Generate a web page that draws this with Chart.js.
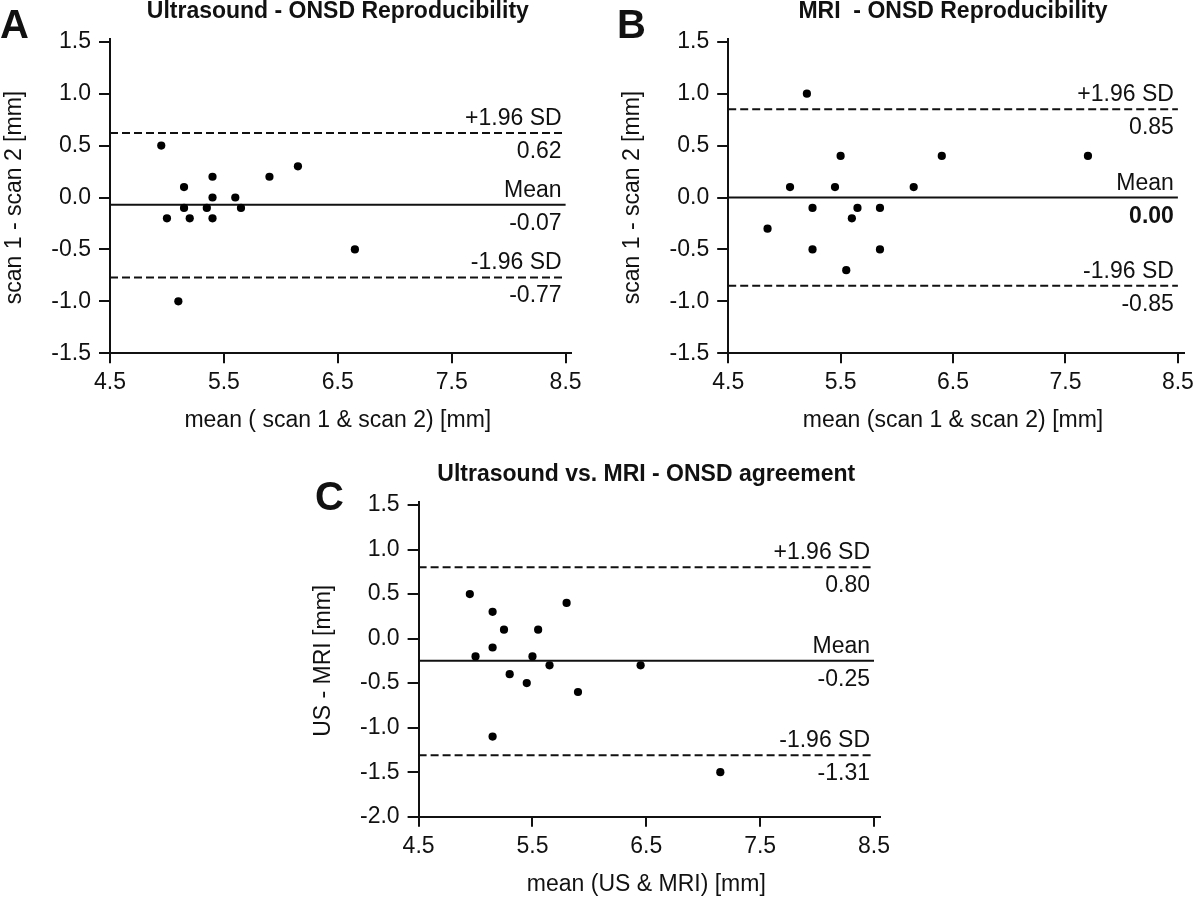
<!DOCTYPE html>
<html>
<head>
<meta charset="utf-8">
<script src="https://cdn.jsdelivr.net/npm/chart.js@4.4.1/dist/chart.umd.min.js"></script>
<style>
  html, body { margin: 0; padding: 0; background: #fff; }
  body { width: 1200px; height: 897px; position: relative; overflow: hidden; }
  canvas { position: absolute; }
</style>
</head>
<body>
<canvas id="chartA" width="600" height="445" style="left:0;top:0"></canvas>
<canvas id="chartB" width="600" height="445" style="left:600px;top:0"></canvas>
<canvas id="chartC" width="600" height="452" style="left:300px;top:445px"></canvas>

<script>
// --- tick labels ---
const xTicks = [4.5, 5.5, 6.5, 7.5, 8.5];
const yTicksAB = [-1.5, -1.0, -0.5, 0.0, 0.5, 1.0, 1.5];
const yTicksC = [-2.0, -1.5, -1.0, -0.5, 0.0, 0.5, 1.0, 1.5];

// --- A: ultrasound scan 1 vs scan 2 ---
const meanA = [4.95, 5.0, 5.15, 5.15, 5.2, 5.1, 5.35, 5.4, 5.4, 5.4, 5.6, 5.65, 5.9, 6.15, 6.65];
const diffA = [0.5, -0.2, 0.1, -0.1, -0.2, -1.0, -0.1, 0.2, 0.0, -0.2, 0.0, -0.1, 0.2, 0.3, -0.5];
const limitsA = [0.62, -0.07, -0.77];   // +1.96 SD, mean, -1.96 SD

// --- B: MRI scan 1 vs scan 2 ---
const meanB = [5.2, 5.05, 4.85, 5.25, 5.25, 5.45, 5.5, 5.55, 5.6, 5.65, 5.85, 5.85, 6.15, 6.4, 7.7];
const diffB = [1.0, 0.1, -0.3, -0.1, -0.5, 0.1, 0.4, -0.7, -0.2, -0.1, -0.1, -0.5, 0.1, 0.4, 0.4];
const limitsB = [0.85, 0.00, -0.85];

// --- C: ultrasound vs MRI ---
const meanC = [4.95, 5.0, 5.15, 5.15, 5.15, 5.25, 5.3, 5.45, 5.5, 5.55, 5.65, 5.8, 5.9, 6.45, 7.15];
const diffC = [0.5, -0.2, 0.3, -0.1, -1.1, 0.1, -0.4, -0.5, -0.2, 0.1, -0.3, 0.4, -0.6, -0.3, -1.5];
const limitsC = [0.80, -0.25, -1.31];

const limitNames = ['+1.96 SD', 'Mean', '-1.96 SD'];

const FONT = '"Liberation Sans", Arial, Helvetica, sans-serif';
Chart.defaults.font.family = FONT;
Chart.defaults.font.size = 23;
Chart.defaults.color = '#111';

// text that Chart.js has no slot for: panel letter, title, axis titles, limit labels
const bandLabels = {
    id: 'bandLabels',
    afterDraw(chart, args, opts) {
        const { ctx, chartArea, scales: { x, y } } = chart;
        const x0 = x.getPixelForValue(4.5);
        const x1 = x.getPixelForValue(8.5);
        const xc = (x0 + x1) / 2;
        ctx.save();
        ctx.fillStyle = '#111';

        // limit lines labels
        ctx.textAlign = 'right';
        ctx.textBaseline = 'alphabetic';
        opts.limits.forEach((v, i) => {
            const py = y.getPixelForValue(v);
            ctx.font = '23px ' + FONT;
            ctx.fillText(limitNames[i], x1 - 4, py - 8);
            ctx.font = (opts.boldMean && i === 1 ? 'bold ' : '') + '23px ' + FONT;
            ctx.fillText(v.toFixed(2), x1 - 4, py + 25);
        });

        // title
        ctx.textAlign = 'center';
        ctx.font = 'bold 23px ' + FONT;
        ctx.fillText(opts.title, xc, chartArea.top - 21);

        // panel letter
        ctx.textAlign = 'left';
        ctx.font = 'bold 40px ' + FONT;
        ctx.fillText(opts.letter, opts.letterX, opts.letterY);

        // x axis title
        ctx.textAlign = 'center';
        ctx.font = '23px ' + FONT;
        ctx.fillText(opts.xTitle, xc, chartArea.bottom + 74);

        // y axis title
        const yTop = y.getPixelForValue(opts.yTicks[opts.yTicks.length - 1]);
        const yc = (yTop + chartArea.bottom) / 2;
        ctx.translate(chartArea.left - 89, yc);
        ctx.rotate(-Math.PI / 2);
        ctx.fillText(opts.yTitle, 0, 0);
        ctx.restore();
    }
};

function makePanel(id, xs, ys, limits, yTicks, yMin, cfg) {
    const points = xs.map((v, i) => ({ x: v, y: ys[i] }));
    const lineSets = limits.map((v, i) => ({
        data: [{ x: 4.5, y: v }, { x: 8.5, y: v }],
        showLine: true,
        borderColor: '#111',
        borderWidth: 2,
        borderDash: i === 1 ? [] : [8, 4],
        pointRadius: 0,
        order: 1
    }));

    return new Chart(document.getElementById(id).getContext('2d'), {
        type: 'scatter',
        data: {
            datasets: [
                {
                    data: points,
                    backgroundColor: '#000',
                    borderWidth: 0,
                    pointRadius: 4.1,
                    order: 0
                },
                ...lineSets
            ]
        },
        options: {
            responsive: false,
            animation: false,
            events: [],
            layout: { padding: cfg.padding },
            plugins: {
                legend: { display: false },
                tooltip: { enabled: false },
                bandLabels: {
                    limits: limits,
                    yTicks: yTicks,
                    title: cfg.title,
                    letter: cfg.letter,
                    letterX: cfg.letterX,
                    letterY: cfg.letterY,
                    xTitle: cfg.xTitle,
                    yTitle: cfg.yTitle,
                    boldMean: cfg.boldMean
                }
            },
            scales: {
                x: {
                    type: 'linear',
                    min: 4.5,
                    max: 8.55,
                    afterBuildTicks: (s) => { s.ticks = xTicks.map(v => ({ value: v })); },
                    afterFit: (s) => { s.height = cfg.xHeight; },
                    grid: { drawOnChartArea: false, drawTicks: true, tickLength: 10, color: '#111', lineWidth: 2 },
                    border: { display: true, color: '#111', width: 2 },
                    ticks: { padding: 6, maxRotation: 0, callback: v => v.toFixed(1) }
                },
                y: {
                    type: 'linear',
                    min: yMin,
                    max: 1.53,
                    afterBuildTicks: (s) => { s.ticks = yTicks.map(v => ({ value: v })); },
                    afterFit: (s) => { s.width = cfg.yWidth; },
                    grid: { drawOnChartArea: false, drawTicks: true, tickLength: 11, color: '#111', lineWidth: 2 },
                    border: { display: true, color: '#111', width: 2 },
                    ticks: { padding: 8, callback: v => v.toFixed(1) }
                }
            }
        },
        plugins: [bandLabels]
    });
}

makePanel('chartA', meanA, diffA, limitsA, yTicksAB, -1.5, {
    title: 'Ultrasound - ONSD Reproducibility',
    letter: 'A', letterX: 0, letterY: 38,
    xTitle: 'mean ( scan 1 & scan 2) [mm]',
    yTitle: 'scan 1 - scan 2 [mm]',
    padding: { top: 38.6, right: 28.7, left: 0, bottom: 0 },
    yWidth: 110, xHeight: 91.7, boldMean: false
});

makePanel('chartB', meanB, diffB, limitsB, yTicksAB, -1.5, {
    title: 'MRI  - ONSD Reproducibility',
    letter: 'B', letterX: 17, letterY: 38,
    xTitle: 'mean (scan 1 & scan 2) [mm]',
    yTitle: 'scan 1 - scan 2 [mm]',
    padding: { top: 38.6, right: 10.5, left: 0, bottom: 0 },
    yWidth: 128.2, xHeight: 91.7, boldMean: true
});

makePanel('chartC', meanC, diffC, limitsC, yTicksC, -2.0, {
    title: 'Ultrasound vs. MRI - ONSD agreement',
    letter: 'C', letterX: 15, letterY: 65,
    xTitle: 'mean (US & MRI) [mm]',
    yTitle: 'US - MRI [mm]',
    padding: { top: 57.3, right: 20.3, left: 0, bottom: 0 },
    yWidth: 118.6, xHeight: 80.3, boldMean: false
});
</script>
</body>
</html>
